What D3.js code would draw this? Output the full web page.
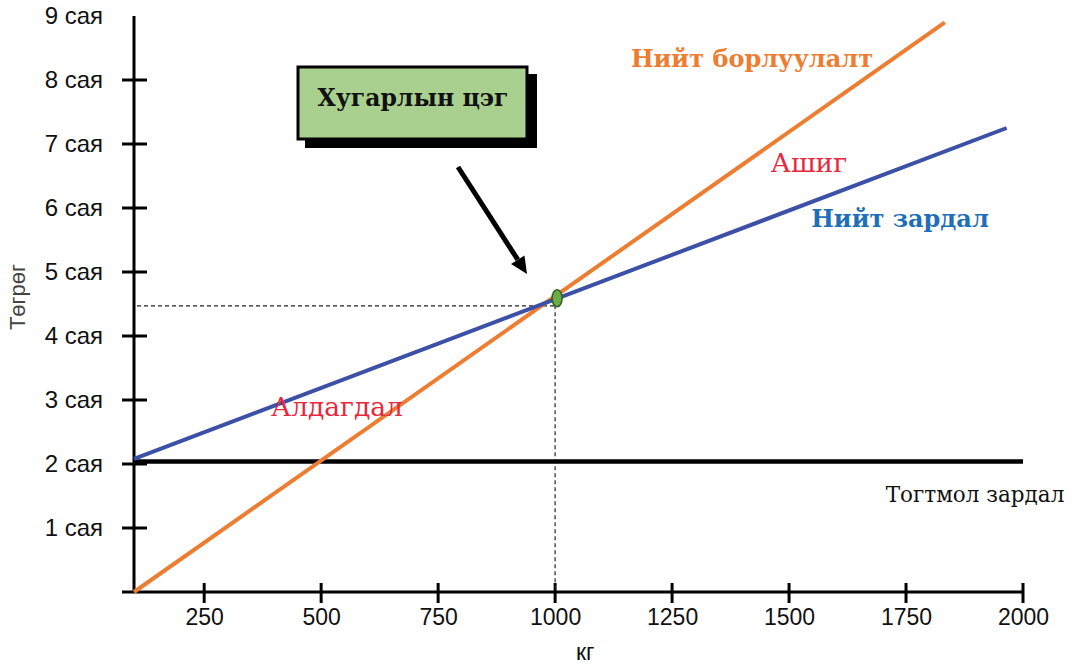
<!DOCTYPE html>
<html>
<head>
<meta charset="utf-8">
<script src="https://cdn.jsdelivr.net/npm/d3@7"></script>
<style>
  body { margin: 0; background: #fff; }
  svg { display: block; }
</style>
</head>
<body>
<div id="chart"></div>
<script>
// Break-even chart: sales vs. total cost vs. fixed cost (kg on x, million tugrik on y)

const xTickValues = [250, 500, 750, 1000, 1250, 1500, 1750, 2000];
const yTickValues = [1, 2, 3, 4, 5, 6, 7, 8, 9];
const yTickLabels = yTickValues.map(v => v + ' сая');

// each line as [kg, million]
const salesLine = [[100, 0], [1833, 8.9]];
const totalCostLine = [[100, 2.08], [1965, 7.25]];
const fixedCostLine = [[100, 2.04], [2000, 2.04]];
const breakEvenPoint = [1000, 4.59];
const breakEvenGuide = 4.47; // dashed guide level on the y axis

const width = 1075, height = 665;
const serif = '"DejaVu Serif", "Liberation Serif", serif';
const sans = '"Liberation Sans", Arial, sans-serif';

const svg = d3.select('#chart').append('svg')
  .attr('width', width)
  .attr('height', height);

const x = d3.scaleLinear().domain([100, 2000]).range([134, 1023]);
const y = d3.scaleLinear().domain([0, 9]).range([592, 16]);

// axes
const xAxis = d3.axisBottom(x).tickValues(xTickValues).tickFormat(d3.format('d'))
  .tickSizeInner(0).tickSizeOuter(0).tickPadding(17);
const gx = svg.append('g').attr('transform', `translate(0,${y(0)})`).call(xAxis);
gx.select('.domain').remove();
gx.selectAll('text').attr('font-family', sans).attr('font-size', 23).attr('fill', '#111');

svg.append('line')
  .attr('x1', 122).attr('x2', x(2000))
  .attr('y1', y(0)).attr('y2', y(0))
  .attr('stroke', '#000').attr('stroke-width', 3);
svg.selectAll('.xtick').data(xTickValues).join('line')
  .attr('class', 'xtick')
  .attr('x1', d => x(d)).attr('x2', d => x(d))
  .attr('y1', y(0) - 9).attr('y2', y(0) + 11)
  .attr('stroke', '#000').attr('stroke-width', 3);

svg.append('line')
  .attr('x1', x(100)).attr('x2', x(100))
  .attr('y1', y(9)).attr('y2', y(0))
  .attr('stroke', '#000').attr('stroke-width', 3);
svg.selectAll('.ytick').data(yTickValues.filter(v => v < 9)).join('line')
  .attr('class', 'ytick')
  .attr('x1', 122).attr('x2', 147)
  .attr('y1', d => y(d)).attr('y2', d => y(d))
  .attr('stroke', '#000').attr('stroke-width', 3);
svg.selectAll('.ylab').data(yTickValues).join('text')
  .attr('class', 'ylab')
  .attr('x', 103)
  .attr('y', d => y(d))
  .attr('dy', '0.35em')
  .attr('text-anchor', 'end')
  .attr('font-family', sans).attr('font-size', 24).attr('fill', '#111')
  .text((d, i) => yTickLabels[i]);

// axis titles
svg.append('text')
  .attr('transform', 'translate(25,297) rotate(-90)')
  .attr('text-anchor', 'middle')
  .attr('font-family', sans).attr('font-size', 22).attr('fill', '#444')
  .text('Төгрөг');
svg.append('text')
  .attr('x', x(1000) + 30).attr('y', 660)
  .attr('text-anchor', 'middle')
  .attr('font-family', sans).attr('font-size', 23).attr('fill', '#111')
  .text('кг');

// dashed guides to break-even point
svg.append('line')
  .attr('x1', x(100) + 3).attr('x2', x(breakEvenPoint[0]))
  .attr('y1', y(breakEvenGuide)).attr('y2', y(breakEvenGuide))
  .attr('stroke', '#222').attr('stroke-width', 1.2).attr('stroke-dasharray', '4,3');
svg.append('line')
  .attr('x1', x(breakEvenPoint[0])).attr('x2', x(breakEvenPoint[0]))
  .attr('y1', y(breakEvenPoint[1])).attr('y2', y(0))
  .attr('stroke', '#222').attr('stroke-width', 1.2).attr('stroke-dasharray', '4,3');

// the three lines
const line = d3.line().x(d => x(d[0])).y(d => y(d[1]));
svg.append('path').datum(fixedCostLine).attr('d', line)
  .attr('fill', 'none').attr('stroke', '#000').attr('stroke-width', 4.5);
svg.append('path').datum(salesLine).attr('d', line)
  .attr('fill', 'none').attr('stroke', '#ed7d31').attr('stroke-width', 4);
svg.append('path').datum(totalCostLine).attr('d', line)
  .attr('fill', 'none').attr('stroke', '#3b50a6').attr('stroke-width', 4);

// break-even dot
svg.append('ellipse')
  .attr('cx', x(breakEvenPoint[0]) + 2).attr('cy', y(breakEvenPoint[1]))
  .attr('rx', 5).attr('ry', 8.5)
  .attr('fill', '#6aad45').attr('stroke', '#375f24').attr('stroke-width', 1.5);

// line labels
svg.append('text')
  .attr('x', 752).attr('y', 67)
  .attr('text-anchor', 'middle')
  .attr('font-family', serif).attr('font-weight', 'bold').attr('font-size', 24).attr('fill', '#ed7d31')
  .text('Нийт борлуулалт');
svg.append('text')
  .attr('x', 809).attr('y', 172)
  .attr('text-anchor', 'middle')
  .attr('font-family', serif).attr('font-size', 26.5).attr('fill', '#e8273c')
  .text('Ашиг');
svg.append('text')
  .attr('x', 900).attr('y', 227)
  .attr('text-anchor', 'middle')
  .attr('font-family', serif).attr('font-weight', 'bold').attr('font-size', 24).attr('fill', '#1f6fb8')
  .text('Нийт зардал');
svg.append('text')
  .attr('x', 337).attr('y', 416)
  .attr('text-anchor', 'middle')
  .attr('font-family', serif).attr('font-size', 26.5).attr('fill', '#e8273c')
  .text('Алдагдал');
svg.append('text')
  .attr('x', 975).attr('y', 502)
  .attr('text-anchor', 'middle')
  .attr('font-family', serif).attr('font-size', 21.5).attr('fill', '#111')
  .text('Тогтмол зардал');

// callout box with shadow
svg.append('rect')
  .attr('x', 305).attr('y', 74).attr('width', 232).attr('height', 74)
  .attr('fill', '#000');
svg.append('rect')
  .attr('x', 298).attr('y', 67).attr('width', 229).attr('height', 72)
  .attr('fill', '#a9d08e').attr('stroke', '#000').attr('stroke-width', 3);
svg.append('text')
  .attr('x', 413).attr('y', 106)
  .attr('text-anchor', 'middle')
  .attr('font-family', serif).attr('font-weight', 'bold').attr('font-size', 23.5).attr('fill', '#111')
  .text('Хугарлын цэг');

// arrow pointing at the break-even point
const arrowStart = [458, 167], arrowTip = [527, 274];
const ang = Math.atan2(arrowTip[1] - arrowStart[1], arrowTip[0] - arrowStart[0]);
const headLen = 17, headW = 8;
const baseX = arrowTip[0] - headLen * Math.cos(ang), baseY = arrowTip[1] - headLen * Math.sin(ang);
svg.append('line')
  .attr('x1', arrowStart[0]).attr('y1', arrowStart[1])
  .attr('x2', baseX).attr('y2', baseY)
  .attr('stroke', '#000').attr('stroke-width', 5);
svg.append('path')
  .attr('d', d3.line()([
    arrowTip,
    [baseX + headW * Math.sin(ang), baseY - headW * Math.cos(ang)],
    [baseX - headW * Math.sin(ang), baseY + headW * Math.cos(ang)]
  ]) + 'Z')
  .attr('fill', '#000');
</script>
</body>
</html>
